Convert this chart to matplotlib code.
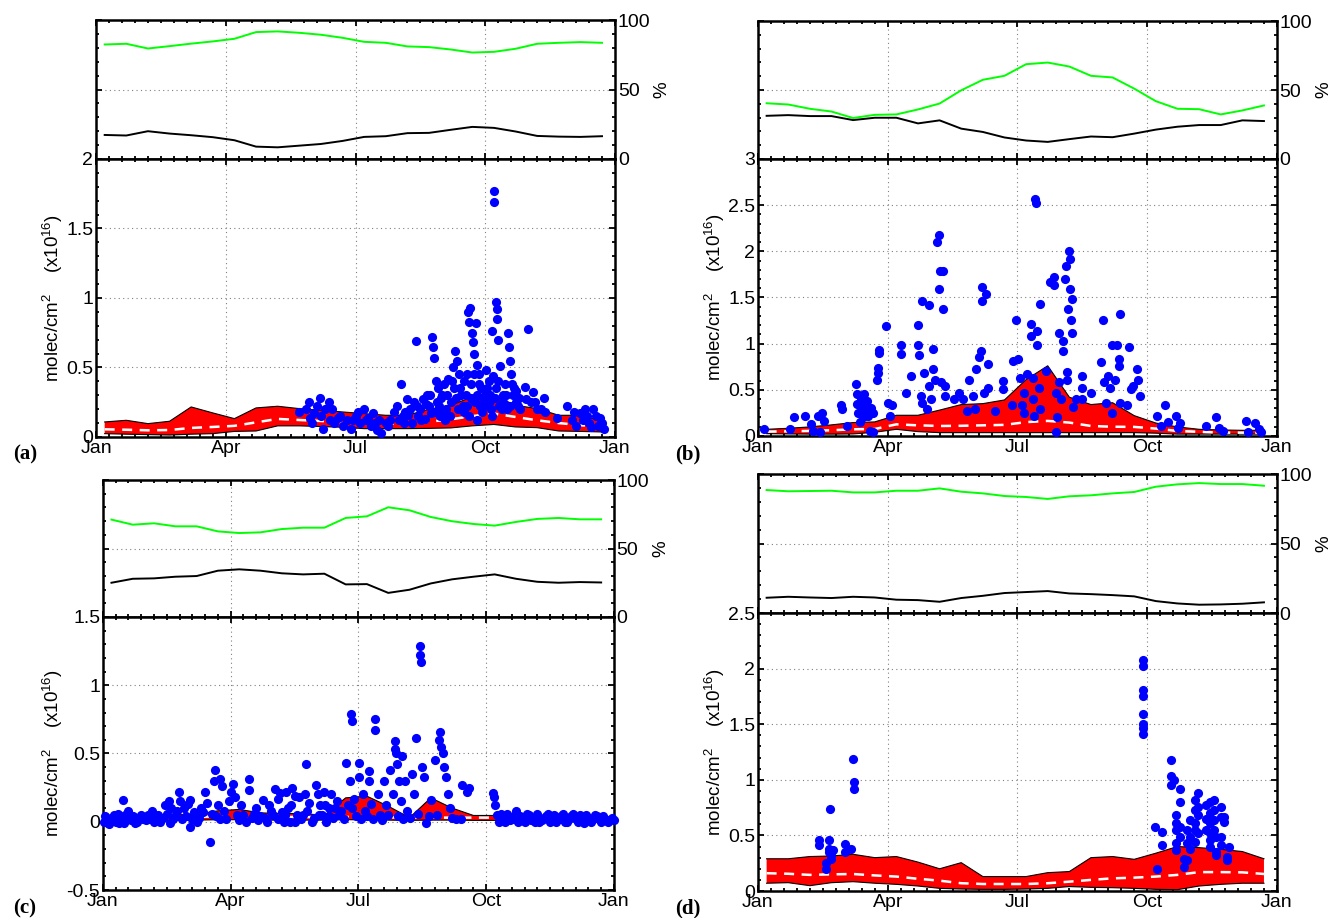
import matplotlib
matplotlib.use('Agg')
import matplotlib.pyplot as plt
from matplotlib.ticker import MultipleLocator, FuncFormatter

plt.rcParams['font.family'] = ['Liberation Sans', 'DejaVu Sans']
plt.rcParams['font.size'] = 12
plt.rcParams['mathtext.fontset'] = 'custom'
plt.rcParams['mathtext.rm'] = 'Liberation Sans'
plt.rcParams['mathtext.it'] = 'Liberation Sans:italic'

# x in months since Jan 1 (semi-monthly means)
half_months = [0.2, 0.7, 1.2, 1.7, 2.2, 2.7, 3.2, 3.7, 4.2, 4.7, 5.2, 5.7,
               6.2, 6.7, 7.2, 7.7, 8.2, 8.7, 9.2, 9.7, 10.2, 10.7, 11.2, 11.7]
month_ticks = [0, 3, 6, 9, 12]
month_labels = ['Jan', 'Apr', 'Jul', 'Oct', 'Jan']

# ---- panel (a)
a_green = [82.4, 82.9, 79.5, 81.2, 83.0, 84.6, 86.5, 91.3, 91.8, 90.8, 89.4, 87.2,
           84.3, 83.6, 81.0, 80.5, 78.8, 76.6, 77.1, 79.3, 82.9, 83.6, 84.1, 83.6]
a_black = [17.3, 16.9, 20.0, 18.3, 17.1, 15.7, 13.5, 8.9, 8.4, 9.6, 10.8, 13.0,
           15.9, 16.4, 18.6, 18.8, 21.0, 23.1, 22.4, 19.8, 16.6, 16.1, 15.9, 16.4]
a_upper = [0.108, 0.12, 0.096, 0.113, 0.216, 0.173, 0.132, 0.209, 0.221, 0.204, 0.192, 0.18,
           0.168, 0.156, 0.156, 0.2, 0.228, 0.288, 0.30, 0.228, 0.204, 0.156, 0.156, 0.115]
a_lower = [0.024, 0.02, 0.017, 0.014, 0.02, 0.024, 0.04, 0.043, 0.08, 0.08, 0.075, 0.07,
           0.06, 0.06, 0.06, 0.062, 0.065, 0.08, 0.09, 0.072, 0.067, 0.043, 0.04, 0.036]
a_median = [0.055, 0.052, 0.048, 0.05, 0.065, 0.072, 0.08, 0.105, 0.13, 0.122, 0.115, 0.108,
            0.1, 0.098, 0.096, 0.11, 0.127, 0.15, 0.168, 0.144, 0.12, 0.1, 0.085, 0.072]
a_dots = [(4.7, 0.18), (4.85, 0.2), (4.92, 0.25), (4.95, 0.14), (5.0, 0.1), (5.05, 0.17),
          (5.1, 0.22), (5.18, 0.28), (5.2, 0.15), (5.25, 0.06), (5.3, 0.2), (5.38, 0.25),
          (5.4, 0.12), (5.45, 0.2), (5.5, 0.1), (5.6, 0.14), (5.65, 0.15), (5.7, 0.08),
          (5.8, 0.12), (5.9, 0.06), (5.95, 0.12), (6.0, 0.15), (6.05, 0.18), (6.1, 0.1),
          (6.2, 0.2), (6.25, 0.12), (6.3, 0.14), (6.35, 0.08), (6.4, 0.17), (6.45, 0.1),
          (6.5, 0.05), (6.55, 0.12), (6.6, 0.03), (6.7, 0.1), (6.75, 0.08), (6.8, 0.12),
          (6.88, 0.18), (6.95, 0.22), (7.0, 0.12), (7.05, 0.38), (7.1, 0.15), (7.15, 0.18),
          (7.2, 0.27), (7.25, 0.2), (7.3, 0.1), (7.35, 0.25), (7.4, 0.69), (7.45, 0.15),
          (7.5, 0.2), (7.55, 0.27), (7.6, 0.13), (7.65, 0.3), (7.7, 0.22), (7.75, 0.17),
          (7.78, 0.72), (7.8, 0.65), (7.82, 0.57), (7.85, 0.4), (7.88, 0.25), (7.9, 0.35),
          (7.95, 0.15), (7.98, 0.28), (8.0, 0.3), (8.05, 0.38), (8.08, 0.12), (8.1, 0.2),
          (8.15, 0.42), (8.2, 0.25), (8.25, 0.5), (8.28, 0.35), (8.3, 0.62), (8.35, 0.55),
          (8.38, 0.2), (8.4, 0.45), (8.45, 0.3), (8.48, 0.22), (8.52, 0.4), (8.55, 0.3),
          (8.58, 0.45), (8.6, 0.9), (8.62, 0.15), (8.63, 0.83), (8.65, 0.93), (8.68, 0.38),
          (8.7, 0.75), (8.72, 0.68), (8.75, 0.6), (8.76, 0.25), (8.78, 0.82), (8.8, 0.52),
          (8.82, 0.12), (8.85, 0.45), (8.88, 0.22), (8.9, 0.35), (8.95, 0.28), (9.0, 0.3),
          (9.02, 0.48), (9.08, 0.4), (9.1, 0.26), (9.13, 0.2), (9.15, 0.76), (9.18, 0.44),
          (9.2, 1.77), (9.21, 1.69), (9.25, 0.97), (9.26, 0.35), (9.27, 0.92), (9.28, 0.85),
          (9.3, 0.7), (9.32, 0.22), (9.35, 0.51), (9.4, 0.3), (9.42, 0.25), (9.45, 0.38),
          (9.5, 0.2), (9.52, 0.75), (9.55, 0.65), (9.58, 0.55), (9.6, 0.45), (9.62, 0.38),
          (9.65, 0.3), (9.7, 0.25), (9.72, 0.33), (9.75, 0.22), (9.8, 0.2), (9.92, 0.36),
          (9.95, 0.27), (9.98, 0.78), (10.05, 0.25), (10.1, 0.32), (10.15, 0.25), (10.2, 0.2),
          (10.3, 0.2), (10.35, 0.28), (10.38, 0.18), (10.65, 0.14), (10.9, 0.22), (11.0, 0.12),
          (11.05, 0.18), (11.1, 0.08), (11.2, 0.17), (11.25, 0.12), (11.3, 0.2), (11.35, 0.15),
          (11.4, 0.1), (11.45, 0.07), (11.5, 0.2), (11.55, 0.15), (11.6, 0.08), (11.65, 0.14),
          (11.7, 0.1), (11.75, 0.06),
          # denser part of the autumn cloud
          (7.12, 0.1), (7.22, 0.16), (7.42, 0.22), (7.52, 0.12), (7.62, 0.24), (7.72, 0.3),
          (7.83, 0.18), (7.92, 0.22), (8.02, 0.18), (8.12, 0.3), (8.18, 0.15), (8.22, 0.4),
          (8.32, 0.28), (8.42, 0.35), (8.5, 0.18), (8.57, 0.22), (8.66, 0.28), (8.73, 0.45),
          (8.8, 0.3), (8.86, 0.38), (8.93, 0.18), (8.98, 0.22), (9.05, 0.35), (9.12, 0.3),
          (9.16, 0.15), (9.22, 0.28), (9.3, 0.4), (9.38, 0.2), (9.48, 0.3), (9.57, 0.22),
          (9.66, 0.35), (9.78, 0.28)]

# ---- panel (b)
b_green = [40.4, 39.5, 36.4, 34.4, 29.7, 32.0, 32.3, 35.9, 40.2, 49.8, 57.4, 60.3,
           68.7, 69.9, 67.0, 60.3, 59.1, 51.0, 41.9, 36.4, 36.1, 32.3, 35.2, 38.8]
b_black = [31.3, 31.8, 31.1, 31.1, 28.2, 29.9, 29.9, 25.8, 28.0, 22.0, 19.6, 15.6,
           13.4, 12.4, 14.4, 16.3, 15.8, 18.4, 21.3, 23.4, 24.6, 24.6, 28.0, 27.5]
b_upper = [0.072, 0.083, 0.098, 0.12, 0.145, 0.152, 0.224, 0.224, 0.28, 0.34, 0.35, 0.39,
           0.61, 0.76, 0.42, 0.34, 0.36, 0.22, 0.14, 0.098, 0.072, 0.065, 0.061, 0.061]
b_lower = [0.025, 0.022, 0.02, 0.02, 0.022, 0.04, 0.072, 0.047, 0.036, 0.036, 0.036, 0.036,
           0.036, 0.036, 0.036, 0.036, 0.036, 0.036, 0.03, 0.02, 0.02, 0.02, 0.02, 0.02]
b_median = [0.047, 0.05, 0.055, 0.062, 0.072, 0.075, 0.126, 0.115, 0.108, 0.11, 0.115, 0.12,
            0.15, 0.163, 0.145, 0.108, 0.1, 0.098, 0.08, 0.054, 0.045, 0.036, 0.036, 0.036]
b_dots = [(0.15, 0.07), (0.74, 0.07), (0.84, 0.2), (1.08, 0.22), (1.23, 0.13), (1.28, 0.05),
          (1.38, 0.22), (1.43, 0.04), (1.48, 0.25), (1.53, 0.16), (1.92, 0.34), (1.95, 0.29),
          (2.07, 0.11), (2.27, 0.56), (2.28, 0.45), (2.3, 0.35), (2.32, 0.25), (2.35, 0.15),
          (2.38, 0.4), (2.4, 0.3), (2.42, 0.2), (2.45, 0.45), (2.47, 0.35), (2.5, 0.28),
          (2.52, 0.38), (2.55, 0.22), (2.6, 0.05), (2.62, 0.3), (2.66, 0.04), (2.66, 0.25),
          (2.76, 0.61), (2.77, 0.68), (2.78, 0.74), (2.81, 0.9), (2.81, 0.93), (2.96, 1.19),
          (3.0, 0.36), (3.06, 0.22), (3.1, 0.34), (3.3, 0.98), (3.3, 0.89), (3.43, 0.46),
          (3.55, 0.65), (3.7, 1.2), (3.7, 0.98), (3.72, 0.88), (3.76, 0.43), (3.8, 1.46),
          (3.8, 0.36), (3.85, 0.68), (3.9, 0.29), (3.95, 1.42), (3.95, 0.54), (4.0, 0.4),
          (4.04, 0.94), (4.04, 0.72), (4.09, 0.61), (4.14, 2.1), (4.19, 2.18), (4.19, 1.59),
          (4.21, 1.79), (4.24, 0.58), (4.29, 1.38), (4.32, 0.43), (4.32, 0.54), (4.29, 1.79),
          (4.54, 0.4), (4.64, 0.47), (4.73, 0.4), (4.83, 0.27), (4.88, 0.61), (4.98, 0.43),
          (5.01, 0.29), (5.03, 0.72), (5.11, 0.85), (5.15, 0.92), (5.18, 1.61), (5.18, 1.46),
          (5.23, 0.47), (5.28, 1.54), (5.33, 0.52), (5.33, 0.78), (5.47, 0.27), (5.67, 0.6),
          (5.67, 0.51), (5.87, 0.34), (5.9, 0.81), (5.97, 1.26), (6.02, 0.83), (6.06, 0.63),
          (6.11, 0.34), (6.16, 0.25), (6.16, 0.47), (6.21, 0.67), (6.31, 1.21), (6.31, 1.08),
          (6.36, 0.63), (6.36, 0.4), (6.39, 0.22), (6.41, 2.57), (6.43, 2.52), (6.46, 1.14),
          (6.46, 0.98), (6.49, 0.52), (6.51, 0.29), (6.53, 1.43), (6.66, 0.7), (6.75, 1.67),
          (6.85, 1.72), (6.85, 1.63), (6.88, 0.47), (6.9, 0.04), (6.92, 0.2), (6.95, 1.12),
          (6.95, 0.58), (7.0, 0.4), (7.05, 1.03), (7.05, 0.92), (7.1, 1.7), (7.12, 1.84),
          (7.15, 0.69), (7.15, 0.61), (7.18, 1.37), (7.2, 2.0), (7.22, 1.92), (7.22, 1.59),
          (7.23, 1.26), (7.25, 1.12), (7.27, 1.48), (7.28, 0.31), (7.35, 0.4), (7.5, 0.65),
          (7.5, 0.52), (7.5, 0.4), (7.69, 0.47), (7.94, 0.8), (7.97, 1.26), (7.99, 0.58),
          (8.04, 0.36), (8.09, 0.65), (8.14, 0.52), (8.19, 0.98), (8.19, 0.25), (8.26, 0.61),
          (8.3, 0.99), (8.34, 0.83), (8.34, 0.76), (8.36, 1.32), (8.38, 0.36), (8.53, 0.33),
          (8.58, 0.96), (8.63, 0.51), (8.68, 0.54), (8.76, 0.72), (8.78, 0.61), (8.83, 0.43),
          (9.22, 0.22), (9.32, 0.11), (9.42, 0.33), (9.47, 0.15), (9.66, 0.22), (9.71, 0.09),
          (9.76, 0.14), (10.36, 0.11), (10.6, 0.2), (10.65, 0.09), (10.75, 0.05), (11.29, 0.16),
          (11.34, 0.04), (11.49, 0.14), (11.59, 0.07), (11.64, 0.04)]

# ---- panel (c)
c_green = [71.1, 67.4, 68.4, 66.2, 66.2, 62.5, 61.3, 61.8, 64.2, 65.2, 65.2, 72.3,
           73.5, 80.1, 77.9, 73.0, 69.9, 67.9, 66.7, 69.4, 71.6, 72.3, 71.3, 71.3]
c_black = [25.0, 27.9, 28.2, 29.4, 29.9, 33.8, 34.8, 33.8, 31.9, 31.1, 31.6, 23.8,
           24.0, 17.6, 19.9, 24.5, 27.5, 29.4, 31.1, 27.9, 25.7, 25.0, 25.5, 25.2]
c_upper = [0.03, 0.046, 0.04, 0.05, 0.055, 0.08, 0.09, 0.065, 0.06, 0.06, 0.046, 0.175,
           0.187, 0.114, 0.03, 0.175, 0.1, 0.046, 0.046, 0.03, 0.03, 0.03, 0.03, 0.03]
c_lower = [0.012, 0.012, 0.01, 0.01, 0.012, 0.015, 0.015, 0.012, 0.012, 0.012, 0.012, 0.015,
           0.015, 0.012, 0.01, 0.012, 0.012, 0.01, 0.01, 0.01, 0.01, 0.01, 0.01, 0.01]
c_median = [0.028, 0.03, 0.03, 0.032, 0.035, 0.04, 0.042, 0.038, 0.035, 0.035, 0.033, 0.035,
            0.035, 0.032, 0.03, 0.03, 0.03, 0.03, 0.03, 0.028, 0.028, 0.028, 0.028, 0.028]
c_dots = [(0.03, 0.0), (0.08, 0.02), (0.12, -0.01), (0.18, 0.03), (0.25, 0.05), (0.3, 0.0),
          (0.35, 0.06), (0.42, 0.02), (0.46, 0.16), (0.5, -0.01), (0.55, 0.03), (0.6, 0.08),
          (0.65, 0.01), (0.7, 0.04), (0.8, 0.0), (0.85, 0.03), (0.9, 0.05), (1.0, 0.01),
          (1.1, 0.02), (1.15, 0.08), (1.25, 0.03), (1.3, 0.05), (1.35, 0.0), (1.45, 0.12),
          (1.5, 0.06), (1.55, 0.15), (1.6, 0.1), (1.65, 0.02), (1.75, 0.08), (1.78, 0.22),
          (1.82, 0.15), (1.9, 0.1), (1.95, 0.04), (2.0, 0.13), (2.05, 0.16), (2.05, -0.04),
          (2.1, 0.02), (2.15, 0.07), (2.25, 0.03), (2.35, 0.07), (2.4, 0.22), (2.45, 0.14),
          (2.52, -0.145), (2.6, 0.3), (2.62, 0.38), (2.65, 0.04), (2.7, 0.12), (2.75, 0.31),
          (2.8, 0.26), (2.85, 0.08), (2.9, 0.02), (2.95, 0.15), (3.0, 0.22), (3.05, 0.28),
          (3.1, 0.18), (3.15, 0.05), (3.2, 0.01), (3.3, 0.05), (3.43, 0.31), (3.43, 0.23),
          (3.5, 0.03), (3.6, 0.1), (3.65, 0.01), (3.75, 0.16), (3.8, 0.03), (3.9, 0.12),
          (4.0, 0.05), (4.05, 0.24), (4.1, 0.17), (4.15, 0.21), (4.2, 0.07), (4.25, 0.0),
          (4.3, 0.22), (4.35, 0.1), (4.4, 0.0), (4.45, 0.25), (4.5, 0.19), (4.55, 0.05),
          (4.6, 0.18), (4.65, 0.02), (4.77, 0.42), (4.75, 0.2), (4.8, 0.08), (4.9, 0.0),
          (5.0, 0.27), (5.05, 0.2), (5.1, 0.12), (5.15, 0.05), (5.2, 0.22), (5.25, 0.0),
          (5.3, 0.1), (5.35, 0.2), (5.4, 0.03), (5.5, 0.15), (5.55, 0.05), (5.6, 0.08),
          (5.71, 0.43), (5.83, 0.79), (5.84, 0.74), (5.8, 0.3), (5.85, 0.1), (5.9, 0.17),
          (6.01, 0.43), (6.02, 0.33), (6.05, 0.02), (6.1, 0.2), (6.15, 0.08), (6.25, 0.37),
          (6.25, 0.3), (6.3, 0.13), (6.39, 0.75), (6.4, 0.67), (6.45, 0.2), (6.5, 0.05),
          (6.55, 0.01), (6.6, 0.3), (6.65, 0.12), (6.75, 0.38), (6.8, 0.2), (6.85, 0.59),
          (6.86, 0.53), (6.88, 0.5), (6.9, 0.42), (6.95, 0.3), (7.0, 0.15), (7.03, 0.48),
          (7.05, 0.02), (7.1, 0.3), (7.15, 0.08), (7.25, 0.35), (7.3, 0.2), (7.36, 0.61),
          (7.45, 1.29), (7.45, 1.22), (7.46, 1.17), (7.5, 0.4), (7.55, 0.33), (7.59, -0.01),
          (7.7, 0.16), (7.8, 0.45), (7.92, 0.66), (7.9, 0.6), (7.95, 0.55), (7.98, 0.5),
          (8.0, 0.4), (8.05, 0.33), (8.1, 0.2), (8.15, 0.1), (8.2, 0.03), (8.4, 0.02),
          (8.43, 0.27), (8.55, 0.22), (8.6, 0.25), (9.16, 0.21), (9.18, 0.18), (9.2, 0.12),
          (9.25, 0.05), (9.3, 0.0), (9.35, 0.06), (9.4, 0.03), (9.5, 0.06), (9.55, 0.01),
          (9.6, 0.02), (9.7, 0.08), (9.75, 0.0), (9.8, 0.04), (9.9, 0.0), (10.0, 0.05),
          (10.05, 0.01), (10.1, 0.03), (10.2, 0.06), (10.25, 0.0), (10.3, 0.01), (10.4, 0.04),
          (10.5, 0.0), (10.55, 0.03), (10.6, 0.05), (10.7, 0.02), (10.8, 0.06), (10.85, 0.0),
          (10.9, 0.0), (11.0, 0.04), (11.1, 0.02), (11.2, 0.05), (11.3, -0.01), (11.4, 0.03),
          (11.5, 0.02), (11.6, 0.04), (11.7, 0.0), (11.8, 0.02), (11.9, 0.01), (12.0, 0.01),
          # dense cloud of small columns along the baseline
          (0.05, 0.04), (0.15, -0.02), (0.22, 0.01), (0.38, -0.01), (0.52, 0.05), (0.75, -0.01),
          (0.95, 0.02), (1.05, 0.05), (1.2, 0.0), (1.4, 0.03), (1.58, -0.01), (1.7, 0.04),
          (1.85, 0.02), (2.2, 0.0), (2.3, 0.1), (2.55, 0.06), (2.75, 0.02), (3.25, 0.12),
          (3.35, 0.0), (3.55, 0.06), (3.7, 0.04), (3.85, 0.0), (3.95, 0.08), (4.12, 0.02),
          (4.28, 0.05), (4.42, 0.12), (4.52, 0.0), (4.7, 0.05), (4.85, 0.14), (4.95, 0.03),
          (5.08, 0.05), (5.22, 0.12), (5.32, 0.04), (5.45, 0.1), (5.65, 0.02), (5.75, 0.12),
          (5.95, 0.04), (6.2, 0.04), (6.35, 0.02), (6.7, 0.05), (6.92, 0.04), (7.2, 0.03),
          (7.4, 0.06), (7.65, 0.04), (7.85, 0.05), (8.3, 0.02), (9.45, 0.0), (9.65, 0.04),
          (9.85, 0.02), (9.95, 0.06), (10.15, 0.0), (10.35, 0.03), (10.45, 0.06), (10.65, 0.0),
          (10.75, 0.04), (10.95, 0.02), (11.05, 0.06), (11.15, 0.0), (11.25, 0.03),
          (11.35, 0.05), (11.45, 0.0), (11.55, 0.05), (11.65, 0.02), (11.75, 0.04),
          (11.85, 0.0), (11.95, 0.03)]

# ---- panel (d)
d_green = [88.5, 87.6, 87.8, 88.0, 86.8, 86.8, 88.0, 88.0, 89.7, 87.3, 86.1, 84.2,
           83.5, 82.1, 84.0, 84.7, 86.1, 87.1, 90.9, 92.6, 93.5, 92.8, 92.8, 91.6]
d_black = [11.0, 11.7, 11.2, 10.8, 11.7, 11.2, 9.6, 9.3, 8.1, 10.8, 12.4, 14.4,
           15.1, 15.8, 14.1, 13.6, 12.9, 12.0, 8.6, 6.9, 6.0, 6.2, 6.7, 7.7]
d_upper = [0.29, 0.29, 0.31, 0.315, 0.33, 0.30, 0.31, 0.26, 0.20, 0.255, 0.13, 0.13,
           0.13, 0.165, 0.175, 0.30, 0.31, 0.285, 0.34, 0.40, 0.39, 0.375, 0.355, 0.29]
d_lower = [0.07, 0.075, 0.048, 0.075, 0.084, 0.07, 0.06, 0.045, 0.024, 0.018, 0.015, 0.015,
           0.018, 0.024, 0.04, 0.033, 0.03, 0.024, 0.015, 0.012, 0.045, 0.06, 0.07, 0.07]
d_median = [0.16, 0.155, 0.145, 0.15, 0.153, 0.14, 0.13, 0.11, 0.093, 0.07, 0.063, 0.063,
            0.063, 0.07, 0.084, 0.1, 0.114, 0.12, 0.13, 0.145, 0.17, 0.17, 0.168, 0.153]
d_dots = [(1.42, 0.46), (1.42, 0.41), (1.57, 0.25), (1.57, 0.2), (1.64, 0.46), (1.64, 0.38),
          (1.64, 0.35), (1.67, 0.74), (1.69, 0.32), (1.69, 0.29), (1.74, 0.37), (2.01, 0.42),
          (2.01, 0.35), (2.14, 0.38), (2.2, 1.19), (2.23, 0.98), (2.23, 0.92),
          (8.9, 2.08), (8.9, 2.02), (8.9, 1.81), (8.9, 1.75), (8.9, 1.59), (8.9, 1.5),
          (8.9, 1.47), (8.9, 1.41), (9.19, 0.58), (9.22, 0.2), (9.35, 0.53), (9.35, 0.41),
          (9.55, 1.18), (9.55, 1.03), (9.55, 0.95), (9.62, 1.0), (9.67, 0.68), (9.67, 0.61),
          (9.67, 0.55), (9.67, 0.43), (9.67, 0.37), (9.76, 0.92), (9.76, 0.8), (9.76, 0.58),
          (9.76, 0.49), (9.84, 0.29), (9.84, 0.22), (9.91, 0.55), (9.91, 0.43), (9.91, 0.28),
          (10.0, 0.64), (10.0, 0.49), (10.0, 0.38), (10.1, 0.82), (10.1, 0.73), (10.1, 0.61),
          (10.1, 0.55), (10.1, 0.44), (10.18, 0.88), (10.18, 0.76), (10.18, 0.68), (10.18, 0.52),
          (10.35, 0.77), (10.35, 0.65), (10.35, 0.55), (10.45, 0.8), (10.45, 0.7), (10.45, 0.61),
          (10.45, 0.52), (10.45, 0.46), (10.45, 0.4), (10.55, 0.82), (10.55, 0.73), (10.55, 0.64),
          (10.55, 0.55), (10.6, 0.49), (10.6, 0.35), (10.6, 0.32), (10.7, 0.76), (10.7, 0.67),
          (10.7, 0.49), (10.7, 0.41), (10.77, 0.67), (10.77, 0.62), (10.85, 0.31), (10.85, 0.28),
          (10.9, 0.4)]

panels = [
    dict(tag='(a)', tag_xy=(0.0188, 0.5044),
         top=[0.0722, 0.8268, 0.3902, 0.1514], bot=[0.0722, 0.5240, 0.3902, 0.3028],
         ylim=(0, 2), green=a_green, black=a_black, upper=a_upper, lower=a_lower,
         median=a_median, dots=a_dots),
    dict(tag='(b)', tag_xy=(0.5173, 0.5044),
         top=[0.5699, 0.8268, 0.3902, 0.1503], bot=[0.5699, 0.5251, 0.3902, 0.3017],
         ylim=(0, 3), green=b_green, black=b_black, upper=b_upper, lower=b_lower,
         median=b_median, dots=b_dots),
    dict(tag='(c)', tag_xy=(0.0188, 0.0109),
         top=[0.0774, 0.3279, 0.3842, 0.1492], bot=[0.0774, 0.0305, 0.3842, 0.2974],
         ylim=(-0.5, 1.5), green=c_green, black=c_black, upper=c_upper, lower=c_lower,
         median=c_median, dots=c_dots),
    dict(tag='(d)', tag_xy=(0.5173, 0.0109),
         top=[0.5699, 0.3322, 0.3902, 0.1514], bot=[0.5699, 0.0294, 0.3902, 0.3028],
         ylim=(0, 2.5), green=d_green, black=d_black, upper=d_upper, lower=d_lower,
         median=d_median, dots=d_dots),
]


def style(ax):
    ax.set_xlim(0, 12)
    ax.set_xticks(month_ticks)
    ax.xaxis.set_minor_locator(MultipleLocator(0.3))
    ax.tick_params(which='both', direction='in', top=True, right=True, width=1.3,
                   labelsize=14, pad=2)
    ax.tick_params(which='major', length=4)
    ax.tick_params(which='minor', length=2.5)
    ax.set_axisbelow(True)
    ax.grid(True, which='major', linestyle=(0, (1, 3)), color='0.5', linewidth=0.8)
    for s in ax.spines.values():
        s.set_linewidth(1.8)


fig = plt.figure(figsize=(13.3, 9.18), dpi=100)

for p in panels:
    # cloud fraction panel
    ax1 = fig.add_axes(p['top'])
    style(ax1)
    ax1.plot(half_months, p['green'], color='#00ff00', lw=1.4)
    ax1.plot(half_months, p['black'], color='black', lw=1.4)
    ax1.set_ylim(0, 100)
    ax1.set_yticks([0, 50, 100])
    ax1.yaxis.set_minor_locator(MultipleLocator(10))
    ax1.tick_params(labelbottom=False, labelleft=False, labelright=True)
    ax1.yaxis.set_label_position('right')
    ax1.set_ylabel('%', fontsize=13.5, labelpad=2)

    # column panel
    ax2 = fig.add_axes(p['bot'])
    style(ax2)
    ax2.fill_between(half_months, p['lower'], p['upper'], facecolor='red',
                     edgecolor='none', zorder=2)
    ax2.plot(half_months, p['upper'], color='black', lw=0.8, zorder=2)
    ax2.plot(half_months, p['lower'], color='black', lw=0.8, zorder=2)
    ax2.plot(half_months, p['median'], color='white', lw=1.8, ls=(0, (4, 3)), zorder=2)
    dx = [d[0] for d in p['dots']]
    dy = [d[1] for d in p['dots']]
    ax2.plot(dx, dy, 'o', color='#0000ff', ms=6.6, mew=0, zorder=3, clip_on=False)
    ax2.set_ylim(*p['ylim'])
    ax2.yaxis.set_major_locator(MultipleLocator(0.5))
    ax2.yaxis.set_minor_locator(MultipleLocator(0.1))
    ax2.yaxis.set_major_formatter(FuncFormatter(lambda v, pos: '%g' % v))
    ax2.set_xticklabels(month_labels)
    ax2.set_ylabel(r'molec/cm$^2$    (x10$^{16}$)', fontsize=13.5, labelpad=1)

    fig.text(p['tag_xy'][0], p['tag_xy'][1], p['tag'], ha='center', va='center',
             fontsize=15, fontweight='bold', family='Liberation Serif')

fig.savefig('out.png', dpi=100)
